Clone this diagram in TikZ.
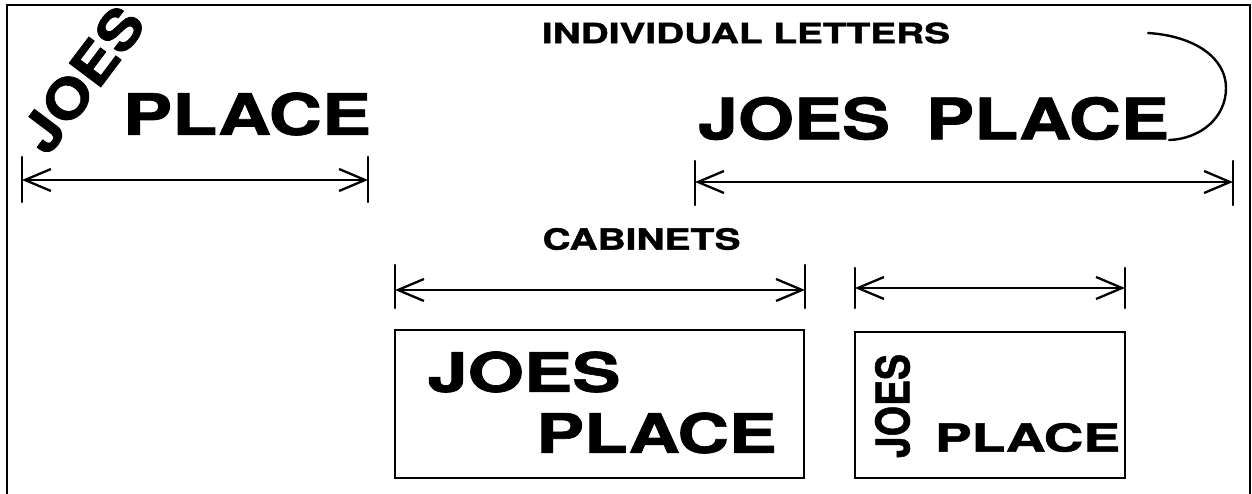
\documentclass[tikz,border=0pt]{standalone}
\usepackage{fontspec}
\setmainfont{TeX Gyre Heros}[BoldFeatures={FakeBold=1.2}]
\usepackage{graphicx}
\usetikzlibrary{arrows.meta}
\newcommand{\fitword}[3]{\resizebox*{#1pt}{#2pt}{\bfseries #3}}
\tikzset{
  word/.style={inner sep=0pt, outer sep=0pt, anchor=center},
  frameline/.style={line width=2pt, line cap=round},
  tickline/.style={line width=2.6pt, line cap=round},
  dimline/.style={line width=2.3pt, {Straight Barb[length=26pt,width=22pt]}-{Straight Barb[length=26pt,width=22pt]}},
  signbox/.style={line width=2.6pt},
  curveline/.style={line width=2.4pt, line cap=round}
}
\begin{document}
\begin{tikzpicture}[x=1pt,y=-1pt]
\useasboundingbox (0,0) rectangle (1252,494);
\fill[white] (0,0) rectangle (1252,494);
% frame
\draw[frameline] (7,494) -- (7,5) -- (1250,5) -- (1250,494);

% --- top left
\begin{scope}
\clip (8,6) rectangle (1249,494);
\node[word, rotate=53] (joesL) at (82,79) {\fitword{166}{41}{JOES}};
\end{scope}
\node[word] (placeL) at (247,114) {\fitword{248}{43}{PLACE}};
\coordinate (d1a) at (22,180);
\coordinate (d1b) at (368,180);
\draw[tickline] (22,157) -- (22,202);
\draw[tickline] (368,157) -- (368,202);
\draw[dimline] (d1a) -- (d1b);

% --- top right
\node[word] (title) at (746,33) {\fitword{408}{21}{INDIVIDUAL LETTERS}};
\node[word] (joesR) at (794,118.5) {\fitword{192}{43}{JOES}};
\node[word] (placeR) at (1047.5,118.5) {\fitword{243}{43}{PLACE}};
\coordinate (c1) at (1148,33);
\coordinate (c2) at (1226,88);
\draw[curveline] (c1) .. controls (1195,36) and (1226,58) .. (c2)
  .. controls (1226,118) and (1200,139) .. (placeR.south east);
\coordinate (d2a) at (695,182);
\coordinate (d2b) at (1233,182);
\draw[tickline] (695,161) -- (695,205);
\draw[tickline] (1233,161) -- (1233,205);
\draw[dimline] (d2a) -- (d2b);

% --- cabinets
\node[word] (cab) at (641.5,239) {\fitword{198}{22}{CABINETS}};
\coordinate (d3a) at (395,290);
\coordinate (d3b) at (805,290);
\draw[tickline] (395,265) -- (395,308);
\draw[tickline] (805,265) -- (805,308);
\draw[dimline] (d3a) -- (d3b);
\draw[signbox] (395,330) rectangle (804,478);
\node[word] (joesB1) at (524,372) {\fitword{193}{41}{JOES}};
\node[word] (placeB1) at (656.5,433) {\fitword{240}{41}{PLACE}};

\coordinate (d4a) at (855,288);
\coordinate (d4b) at (1125,288);
\draw[tickline] (855,268) -- (855,308);
\draw[tickline] (1125,268) -- (1125,308);
\draw[dimline] (d4a) -- (d4b);
\draw[signbox] (855,332) rectangle (1125,478);
\node[word, rotate=90] (joesB2) at (892.5,406) {\fitword{104}{35}{JOES}};
\node[word] (placeB2) at (1027.5,437.5) {\fitword{185}{29}{PLACE}};
\end{tikzpicture}
\end{document}
